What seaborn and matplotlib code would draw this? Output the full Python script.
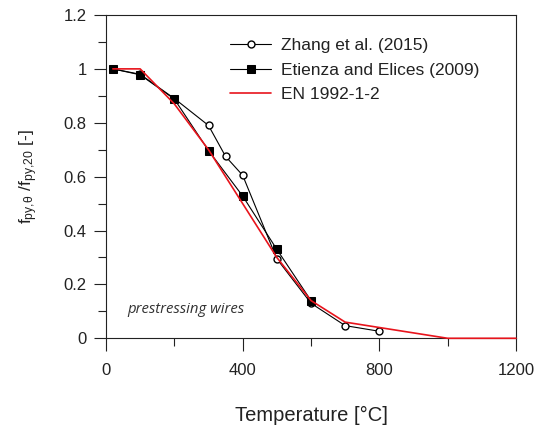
import numpy as np
import pandas as pd
import matplotlib
matplotlib.use("Agg")
import matplotlib.pyplot as plt
import seaborn as sns
from matplotlib.ticker import MultipleLocator, FormatStrFormatter

# -----------------------------------
# DATA
# -----------------------------------

zhang_temp = [20, 100, 200, 300, 350, 400, 500, 600, 700, 800]
zhang_ratio = [1.0, 0.98, 0.89, 0.79, 0.675, 0.605, 0.295, 0.13, 0.047, 0.026]

etienza_temp = [20, 100, 200, 300, 400, 500, 600]
etienza_ratio = [1.0, 0.978, 0.888, 0.697, 0.528, 0.33, 0.14]

en_temp = [20, 100, 200, 300, 400, 500, 600, 700, 800, 900, 1000, 1100, 1200]
en_ratio = [1.0, 1.0, 0.87, 0.70, 0.50, 0.30, 0.14, 0.06, 0.04, 0.02, 0.0, 0.0, 0.0]

x_ticks = [0, 400, 800, 1200]
y_ticks = [0, 0.2, 0.4, 0.6, 0.8, 1.0, 1.2]

zhang = pd.DataFrame({"T": zhang_temp, "k": zhang_ratio})
etienza = pd.DataFrame({"T": etienza_temp, "k": etienza_ratio})
en = pd.DataFrame({"T": en_temp, "k": en_ratio})

# -----------------------------------
# STYLE
# -----------------------------------

sns.set_style("ticks")
plt.rcParams["font.family"] = ["Liberation Sans", "DejaVu Sans"]
plt.rcParams["mathtext.fontset"] = "custom"
plt.rcParams["mathtext.rm"] = "Liberation Sans"
plt.rcParams["mathtext.it"] = "Liberation Sans"
plt.rcParams["axes.edgecolor"] = "#222222"
plt.rcParams["axes.linewidth"] = 0.8

fig = plt.figure(figsize=(5.34, 4.26), dpi=100)
ax = fig.add_axes([0.1985, 0.2059, 0.7678, 0.7589])

# -----------------------------------
# PLOT
# -----------------------------------

sns.lineplot(data=zhang, x="T", y="k", ax=ax, color="black", lw=0.8,
             marker="o", markersize=5, markerfacecolor="white",
             markeredgecolor="black", markeredgewidth=1.0,
             label="Zhang et al. (2015)", zorder=3, clip_on=False)
sns.lineplot(data=etienza, x="T", y="k", ax=ax, color="black", lw=0.8,
             marker="s", markersize=6, markerfacecolor="black",
             markeredgecolor="black", label="Etienza and Elices (2009)",
             zorder=3, clip_on=False)
sns.lineplot(data=en, x="T", y="k", ax=ax, color="#e8141c", lw=1.2,
             label="EN 1992-1-2", zorder=4, clip_on=False)

ax.set_xlim(0, 1200)
ax.set_ylim(0, 1.2)
ax.set_xticks(x_ticks)
ax.set_yticks(y_ticks)
ax.xaxis.set_minor_locator(MultipleLocator(200))
ax.yaxis.set_minor_locator(MultipleLocator(0.1))
ax.yaxis.set_major_formatter(FormatStrFormatter("%g"))
ax.tick_params(which="major", direction="out", length=9, width=0.8,
               labelsize=12, color="#222222", labelcolor="#222222")
ax.tick_params(which="minor", direction="out", length=5.5, width=0.8,
               color="#222222")
ax.tick_params(axis="x", pad=9)
ax.tick_params(axis="y", pad=5)

ax.set_xlabel("Temperature [°C]", fontsize=14.5, color="#222222", labelpad=20)
ax.set_ylabel(r"f$_{\mathregular{py,\!\theta}}$ /f$_{\mathregular{py,\!20}}$ [-]",
              fontsize=12.5, color="#222222", labelpad=17)

ax.text(61, 0.095, "prestressing wires", fontsize=10.7, style="italic",
        family=["Open Sans", "DejaVu Sans"], color="#333333")

leg = ax.legend(loc="upper left", bbox_to_anchor=(0.302, 0.928), frameon=False,
                fontsize=12.5, handlelength=2.4, handletextpad=0.57,
                labelspacing=0.53, borderaxespad=0, borderpad=0)
for t in leg.get_texts():
    t.set_color("#222222")

fig.savefig("out.png", dpi=100)
